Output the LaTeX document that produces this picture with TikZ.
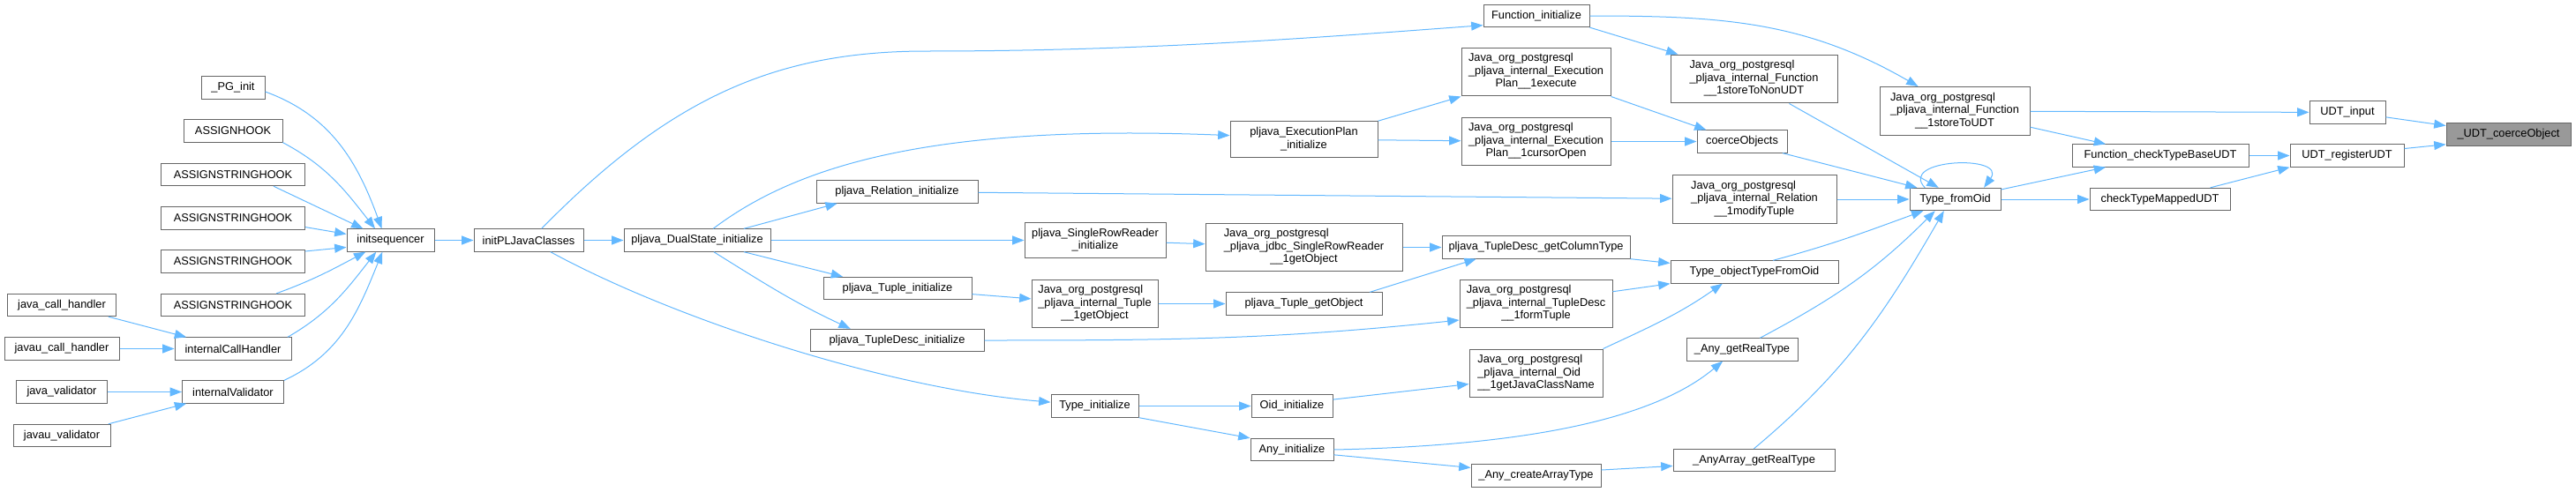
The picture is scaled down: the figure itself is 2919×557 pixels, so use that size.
\documentclass[tikz,border=0pt]{standalone}
\usepackage{fontspec}
\setmainfont{Liberation Sans}
\usetikzlibrary{arrows.meta}

\definecolor{edgeblue}{HTML}{63B8FF}
\definecolor{boxline}{HTML}{666666}
\definecolor{rootfill}{HTML}{999999}

% multi-line labels: left lines, last line centred
\newcommand{\jl}[1]{\begin{tabular}{@{}l@{}}#1\end{tabular}}
\newcommand{\jc}[1]{\multicolumn{1}{@{}c@{}}{#1}}
\renewcommand{\arraystretch}{0.9}

\begin{document}
\begin{tikzpicture}[
    x=0.75pt, y=-0.75pt,
    fn/.style={rectangle, draw=boxline, fill=white, line width=0.75pt, font=\fontsize{9.6}{12}\selectfont, inner xsep=3pt, inner ysep=4.4pt, minimum height=19pt},
    root/.style={fn, fill=rootfill},
    wd/.style={minimum width=#1*0.75pt},
    arrow/.style={-{Triangle[length=10pt,width=7.5pt]}, draw=edgeblue, line width=0.75pt}
]
    \useasboundingbox (0,0) rectangle (2919,557);

    % callers of initsequencer
    \node[fn, wd=72] (pginit) at (264,99.5) {\_PG\_init};
    \node[fn, wd=112] (assignhook) at (264,148.5) {ASSIGNHOOK};
    \node[fn, wd=163] (strhookA) at (264,198) {ASSIGNSTRINGHOOK};
    \node[fn, wd=163] (strhookB) at (264,247.5) {ASSIGNSTRINGHOOK};
    \node[fn, wd=163] (strhookC) at (264,296.5) {ASSIGNSTRINGHOOK};
    \node[fn, wd=163] (strhookD) at (264,346) {ASSIGNSTRINGHOOK};
    \node[fn, wd=123] (javacall) at (70,346) {java\_call\_handler};
    \node[fn, wd=130] (javaucall) at (70,395.5) {javau\_call\_handler};
    \node[fn, wd=132] (intcall) at (264,395.5) {internalCallHandler};
    \node[fn, wd=103] (javaval) at (70,444.5) {java\_validator};
    \node[fn, wd=110] (javauval) at (70,494) {javau\_validator};
    \node[fn, wd=115] (intval) at (264,444.5) {internalValidator};
    \node[fn, wd=99] (initseq) at (442.5,272.5) {initsequencer};
    \node[fn, wd=124] (initclasses) at (599,272.5) {initPLJavaClasses};
    \node[fn, wd=166] (dualinit) at (790,272.5) {pljava\_DualState\_initialize};

    % middle columns
    \node[fn, wd=183] (relinit) at (1016.5,217.5) {pljava\_Relation\_initialize};
    \node[fn, wd=168] (tupleinit) at (1017,327) {pljava\_Tuple\_initialize};
    \node[fn, wd=197] (tdescinit) at (1016.5,386) {pljava\_TupleDesc\_initialize};
    \node[fn, wd=167] (planinit) at (1477.5,158) {\jl{pljava\_ExecutionPlan\\ \jc{\_initialize}}};
    \node[fn, wd=160] (rowreaderinit) at (1241,272.5) {\jl{pljava\_SingleRowReader\\ \jc{\_initialize}}};
    \node[fn, wd=223] (rowreaderget) at (1477.5,280.5) {\jl{Java\_org\_postgresql\\ \_pljava\_jdbc\_SingleRowReader\\ \jc{\_\_1getObject}}};
    \node[fn, wd=143] (tupleget) at (1240.5,344.5) {\jl{Java\_org\_postgresql\\ \_pljava\_internal\_Tuple\\ \jc{\_\_1getObject}}};
    \node[fn, wd=177] (tuplegetobj) at (1477.5,344.5) {pljava\_Tuple\_getObject};
    \node[fn, wd=99] (typeinit) at (1240.5,460.5) {Type\_initialize};
    \node[fn, wd=92] (oidinit) at (1464,460.5) {Oid\_initialize};
    \node[fn, wd=94] (anyinit) at (1464,510) {Any\_initialize};
    \node[fn, wd=120] (fninit) at (1741,18) {Function\_initialize};
    \node[fn, wd=169] (planexec) at (1740.5,81.5) {\jl{Java\_org\_postgresql\\ \_pljava\_internal\_Execution\\ \jc{Plan\_\_1execute}}};
    \node[fn, wd=169] (plancursor) at (1740.5,160.5) {\jl{Java\_org\_postgresql\\ \_pljava\_internal\_Execution\\ \jc{Plan\_\_1cursorOpen}}};
    \node[fn, wd=213] (getcoltype) at (1740.5,280.5) {pljava\_TupleDesc\_getColumnType};
    \node[fn, wd=173] (formtuple) at (1740.5,344.5) {\jl{Java\_org\_postgresql\\ \_pljava\_internal\_TupleDesc\\ \jc{\_\_1formTuple}}};
    \node[fn, wd=151] (javaclassname) at (1740.5,423.5) {\jl{Java\_org\_postgresql\\ \_pljava\_internal\_Oid\\ \jc{\_\_1getJavaClassName}}};
    \node[fn, wd=147] (createarray) at (1740.5,539.5) {\_Any\_createArrayType};

    % right part
    \node[fn, wd=189] (storenonudt) at (1987.5,89.5) {\jl{Java\_org\_postgresql\\ \_pljava\_internal\_Function\\ \jc{\_\_1storeToNonUDT}}};
    \node[fn, wd=102] (coerceobjs) at (1974,160.5) {coerceObjects};
    \node[fn, wd=186] (modtuple) at (1988,226) {\jl{Java\_org\_postgresql\\ \_pljava\_internal\_Relation\\ \jc{\_\_1modifyTuple}}};
    \node[fn, wd=190] (objtype) at (1988,308.5) {Type\_objectTypeFromOid};
    \node[fn, wd=126] (anyrealtype) at (1974,396.5) {\_Any\_getRealType};
    \node[fn, wd=183] (arrayrealtype) at (1987.5,522) {\_AnyArray\_getRealType};
    \node[fn, wd=170] (storeudt) at (2215,126) {\jl{Java\_org\_postgresql\\ \_pljava\_internal\_Function\\ \jc{\_\_1storeToUDT}}};
    \node[fn, wd=103] (typefromoid) at (2215.5,226) {Type\_fromOid};
    \node[fn, wd=200] (checkbase) at (2448,176.5) {Function\_checkTypeBaseUDT};
    \node[fn, wd=159] (checkmapped) at (2447.5,226) {checkTypeMappedUDT};
    \node[fn, wd=86] (udtinput) at (2660,127.5) {UDT\_input};
    \node[fn, wd=129] (udtregister) at (2659.5,176.5) {UDT\_registerUDT};
    \node[root, wd=141] (udtcoerce) at (2842.5,152.5) {\_UDT\_coerceObject};

    % edges, left part
    \draw[arrow] (pginit.-7) to[out=-20,in=110] (initseq.127);
    \draw[arrow] (assignhook.south east) to[out=-28,in=128] (initseq.143);
    \draw[arrow] (strhookA.-16) -- (initseq.157);
    \draw[arrow] (strhookB.-7) -- (initseq.172);
    \draw[arrow] (strhookC.8) -- (initseq.-171);
    \draw[arrow] (strhookD.15) to[out=20,in=-152] (initseq.-155);
    \draw[arrow] (intcall.12) to[out=30,in=-128] (initseq.-141);
    \draw[arrow] (intval.north east) to[out=25,in=-112] (initseq.-125);
    \draw[arrow] (javacall.-14) -- (intcall.166);
    \draw[arrow] (javaucall) -- (intcall);
    \draw[arrow] (javaval) -- (intval);
    \draw[arrow] (javauval.14) -- (intval.-166);
    \draw[arrow] (initseq) -- (initclasses);
    \draw[arrow] (initclasses) -- (dualinit);
    \draw[arrow] (initclasses.42) .. controls (760,110) and (880,58) .. (1050,58)
        .. controls (1300,58) and (1500,42) .. (fninit.-170);
    \draw[arrow] (initclasses.-28) .. controls (760,360) and (1000,440) .. (typeinit.175);

    % edges, middle
    \draw[arrow] (dualinit.36) .. controls (900,190) and (1050,140) .. (planinit.177);
    \draw[arrow] (dualinit.14) -- (relinit.-169);
    \draw[arrow] (dualinit) -- (rowreaderinit);
    \draw[arrow] (dualinit.-14) -- (tupleinit.168);
    \draw[arrow] (dualinit.-35) to[out=-32,in=155] (tdescinit.166);
    \draw[arrow] (planinit.north east) -- (planexec.south west);
    \draw[arrow] (planinit) -- (plancursor);
    \draw[arrow] (planexec.south east) -- (coerceobjs.162);
    \draw[arrow] (plancursor) -- (coerceobjs);
    \draw[arrow] (relinit) -- (modtuple);
    \draw[arrow] (rowreaderinit) -- (rowreaderget);
    \draw[arrow] (rowreaderget) -- (getcoltype);
    \draw[arrow] (tupleinit) -- (tupleget);
    \draw[arrow] (tupleget) -- (tuplegetobj);
    \draw[arrow] (tuplegetobj.10) -- (getcoltype.-169);
    \draw[arrow] (tdescinit.east) to[out=0,in=-174] (formtuple.-168);
    \draw[arrow] (typeinit) -- (oidinit);
    \draw[arrow] (typeinit.south east) -- (anyinit.north west);
    \draw[arrow] (oidinit.9) -- (javaclassname.-171);
    \draw[arrow] (anyinit.-7) -- (createarray.173);

    % edges, right part
    \draw[arrow] (formtuple.9) -- (objtype.south west);
    \draw[arrow] (getcoltype.south east) -- (objtype.174);
    \draw[arrow] (javaclassname.north east) to[out=25,in=-145] (objtype.-160);
    \draw[arrow] (anyinit.east) .. controls (1750,505) and (1880,470) .. (anyrealtype.-149);
    \draw[arrow] (createarray.5) -- (arrayrealtype.-176);
    \draw[arrow] (fninit.south east) -- (storenonudt.162);
    \draw[arrow] (fninit.east) to[out=0,in=150] (storeudt.146);
    \draw[arrow] (coerceobjs.-16) -- (typefromoid.163);
    \draw[arrow] (modtuple) -- (typefromoid);
    \draw[arrow] (storenonudt.-35) -- (typefromoid.145);
    \draw[arrow] (objtype.32) to[out=15,in=-160] (typefromoid.-160);
    \draw[arrow] (anyrealtype.33) to[out=28,in=-135] (typefromoid.-150);
    \draw[arrow] (arrayrealtype.north) to[out=40,in=-120] (typefromoid.-134);
    \draw[arrow] (typefromoid.159) .. controls (2150,180) and (2275,175) .. (typefromoid.22);
    \draw[arrow] (typefromoid.12) -- (checkbase.-168);
    \draw[arrow] (typefromoid) -- (checkmapped);
    \draw[arrow] (storeudt.-12) -- (checkbase.168);
    \draw[arrow] (storeudt) -- (udtinput);
    \draw[arrow] (checkbase) -- (udtregister);
    \draw[arrow] (checkmapped.13) -- (udtregister.south west);
    \draw[arrow] (udtinput.-7) -- (udtcoerce.172);
    \draw[arrow] (udtregister.7) -- (udtcoerce.-171);
\end{tikzpicture}
\end{document}
